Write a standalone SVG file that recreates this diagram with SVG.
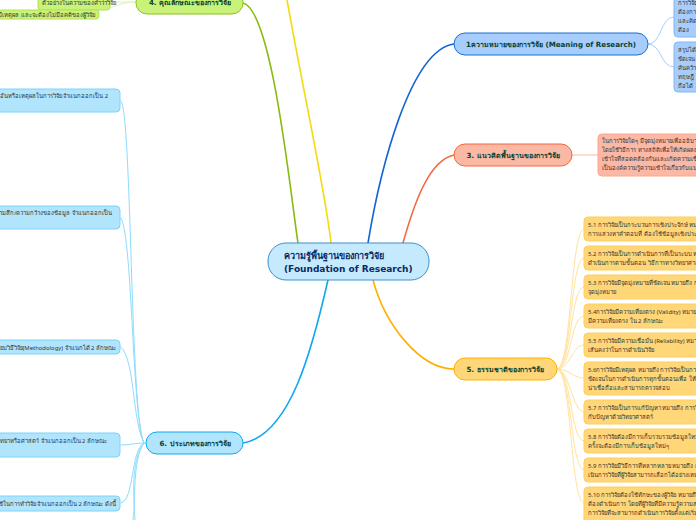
<svg xmlns="http://www.w3.org/2000/svg" width="696" height="520" viewBox="0 0 696 520">
<style>
text{font-family:"Noto Sans","Liberation Sans",sans-serif;fill:#333}
.t{font-size:5.900px}
.h{font-size:7.100px;font-weight:700;fill:#0b4030;font-family:"DejaVu Sans","Noto Sans",sans-serif;text-anchor:middle}
.m{font-size:9px;font-weight:700;fill:#0a2a66;font-family:"DejaVu Sans","Noto Sans",sans-serif}
.c{fill:none;stroke-linecap:round}
.main{stroke-width:1.6}
.sub{stroke-width:1}
.bl{fill:#a6cdfb;stroke:#85b6f5}
.or{fill:#fbb9a5;stroke:#fba68c}
.am{fill:#ffd778;stroke:#ffcd5c}
.sk{fill:#b0e5fd;stroke:#7ed2fa}
.gr{fill:#c8f278;stroke:#b2e44e}
</style>
<g id="connectors">
<path class="c main" stroke="#88bb10" d="M298 243C290 190 272 10 243 3"/>
<path class="c main" stroke="#f2dc0c" d="M331 243C325 190 305 100 287 0"/>
<path class="c main" stroke="#1464d2" d="M368 243C380 170 410 50 454 44"/>
<path class="c main" stroke="#f4683a" d="M403 243C415 200 430 160 454 155"/>
<path class="c main" stroke="#ffb000" d="M373 280C385 325 420 369 454 369"/>
<path class="c main" stroke="#0fa8ee" d="M328 280C312 350 290 435 243 443"/>
<path class="c sub" stroke="#a6cdfb" d="M648 44C662 44 660 17 674 17"/>
<path class="c sub" stroke="#a6cdfb" d="M648 44C662 44 660 67 674 67"/>
<path class="c sub" stroke="#fbb9a5" d="M572 155H598"/>
<g stroke="#ffe39c">
<path class="c sub" d="M557 369C572 369 570 229 584 229"/>
<path class="c sub" d="M557 369C572 369 570 258 584 258"/>
<path class="c sub" d="M557 369C572 369 570 287 584 287"/>
<path class="c sub" d="M557 369C572 369 570 316 584 316"/>
<path class="c sub" d="M557 369C570 369 572 345 584 345"/>
<path class="c sub" d="M557 369C570 369 572 378 584 378"/>
<path class="c sub" d="M557 369C570 369 572 412 584 412"/>
<path class="c sub" d="M557 369C572 369 570 441 584 441"/>
<path class="c sub" d="M557 369C572 369 570 470 584 470"/>
<path class="c sub" d="M557 369C572 369 570 503 584 503"/>
</g>
<g stroke="#8fdcfc">
<path class="c sub" d="M144 443C130 420 132 110 121 101"/>
<path class="c sub" d="M144 443C132 420 133 240 121 218"/>
<path class="c sub" d="M144 443C132 420 135 360 121 347"/>
<path class="c sub" d="M144 443C136 443 130 445 121 445"/>
<path class="c sub" d="M144 443C130 450 135 500 121 503"/>
<path class="c sub" d="M144 443C132 460 136 500 133 520"/>
<path class="c sub" d="M144 443C130 460 134 500 135 520"/>
</g>
<path class="c sub" stroke="#def5b0" d="M136 2H110"/>
<path class="c sub" stroke="#def5b0" d="M136 2C120 2 115 8 99 10"/>
</g>

<g id="node-center">
<rect x="268" y="243" width="161" height="37" rx="18" fill="#c5e9fd" stroke="#3a90d0"/>
<text class="m" x="284" y="259">ความรู้พื้นฐานของการวิจัย</text>
<text class="m" x="284" y="272">(Foundation of Research)</text>
</g>
<g id="node-1">
<rect x="454" y="33" width="194" height="22" rx="11" fill="#a6cdfb" stroke="#1b6fd6"/>
<text class="h" x="551" y="47">1ความหมายของการวิจัย (Meaning of Research)</text>
</g>
<g id="node-3">
<rect x="454" y="144" width="118" height="22" rx="11" fill="#fbb9a5" stroke="#f4683a"/>
<text class="h" x="513" y="158">3. แนวคิดพื้นฐานของการวิจัย</text>
</g>
<g id="node-4">
<rect x="136" y="-9" width="107" height="23" rx="11" fill="#c8f278" stroke="#8cc21c"/>
<text class="h" x="190" y="5">4. คุณลักษณะของการวิจัย</text>
</g>
<g id="node-5">
<rect x="454" y="358" width="103" height="22" rx="11" fill="#ffd778" stroke="#ffb000"/>
<text class="h" x="505" y="372">5. ธรรมชาติของการวิจัย</text>
</g>
<g id="node-6">
<rect x="146" y="432" width="97" height="22" rx="11" fill="#b0e5fd" stroke="#0fa8ee"/>
<text class="h" x="195" y="446">6. ประเภทของการวิจัย</text>
</g>

<g id="leaf-1a"><rect class="bl" x="674" y="-6" width="60" height="43" rx="4"/>
<text class="t" x="678" y="5">การวิจัย</text><text class="t" x="678" y="14">ต้องการ</text><text class="t" x="678" y="23">และคิด</text><text class="t" x="678" y="32">ต้อง</text></g>
<g id="leaf-1b"><rect class="bl" x="674" y="42" width="60" height="50" rx="4"/>
<text class="t" x="678" y="52">สรุปได้</text><text class="t" x="678" y="61">ชัดเจน</text><text class="t" x="678" y="70">ค้นคว้า</text><text class="t" x="678" y="79">ทฤษฎี</text><text class="t" x="678" y="88">ถือได้</text></g>
<g id="leaf-3"><rect class="or" x="598" y="134" width="120" height="42" rx="4"/>
<text class="t" x="602" y="143">ในการวิจัยใดๆ มีจุดมุ่งหมายเพื่ออธิบาย ทำนาย</text><text class="t" x="602" y="152">โดยใช้วิธีการ ทางสถิติเพื่อให้เกิดผลสรุปที่</text><text class="t" x="602" y="161">เข้าใจที่สอดคล้องกันและเกิดความเชื่อมั่น</text><text class="t" x="602" y="170">เป็นองค์ความรู้ความเข้าใจเกี่ยวกับแนวคิด</text></g>

<g id="leaf-5-1"><rect class="am" x="584" y="217" width="130" height="24" rx="4"/><text class="t" x="588" y="227">5.1 การวิจัยเป็นกระบวนการเชิงประจักษ์ หมายถึง</text><text class="t" x="588" y="236">การแสวงหาคำตอบที่ ต้องใช้ข้อมูลเชิงประจักษ์</text></g>
<g id="leaf-5-2"><rect class="am" x="584" y="246" width="130" height="24" rx="4"/><text class="t" x="588" y="256">5.2 การวิจัยเป็นการดำเนินการที่เป็นระบบ หมาย</text><text class="t" x="588" y="265">ดำเนินการตามขั้นตอน วิธีการทางวิทยาศาสตร์</text></g>
<g id="leaf-5-3"><rect class="am" x="584" y="275" width="130" height="24" rx="4"/><text class="t" x="588" y="285">5.3 การวิจัยมีจุดมุ่งหมายที่ชัดเจน หมายถึง การ</text><text class="t" x="588" y="294">จุดมุ่งหมาย</text></g>
<g id="leaf-5-4"><rect class="am" x="584" y="304" width="130" height="24" rx="4"/><text class="t" x="588" y="314">5.4การวิจัยมีความเที่ยงตรง (Validity) หมายถึง</text><text class="t" x="588" y="323">มีความเที่ยงตรง ใน 2 ลักษณะ</text></g>
<g id="leaf-5-5"><rect class="am" x="584" y="333" width="130" height="24" rx="4"/><text class="t" x="588" y="343">5.5 การวิจัยมีความเชื่อมั่น (Reliability) หมายถึง</text><text class="t" x="588" y="352">เส้นคงว่าในการดำเนินวิจัย</text></g>
<g id="leaf-5-6"><rect class="am" x="584" y="362" width="130" height="33" rx="4"/><text class="t" x="588" y="372">5.6การวิจัยมีเหตุผล หมายถึง การวิจัยเป็นการ</text><text class="t" x="588" y="381">ชัดเจนในการดำเนินการทุกขั้นตอนเพื่อ ให้ได้ผล</text><text class="t" x="588" y="390">น่าเชื่อถือและสามารถตรวจสอบ</text></g>
<g id="leaf-5-7"><rect class="am" x="584" y="400" width="130" height="24" rx="4"/><text class="t" x="588" y="410">5.7 การวิจัยเป็นการแก้ปัญหา หมายถึง การวิจัย</text><text class="t" x="588" y="419">กับปัญหาด้วยวิทยาศาสตร์</text></g>
<g id="leaf-5-8"><rect class="am" x="584" y="429" width="130" height="24" rx="4"/><text class="t" x="588" y="439">5.8 การวิจัยต้องมีการเก็บรวบรวมข้อมูลใหม่ หมาย</text><text class="t" x="588" y="448">ครั้งจะต้องมีการเก็บข้อมูลใหม่ๆ</text></g>
<g id="leaf-5-9"><rect class="am" x="584" y="458" width="130" height="24" rx="4"/><text class="t" x="588" y="468">5.9 การวิจัยมีวิธีการที่หลากหลาย หมายถึง การ</text><text class="t" x="588" y="477">เนินการวิจัยที่ผู้วิจัยสามารถเลือกได้อย่างเหมาะสม</text></g>
<g id="leaf-5-10"><rect class="am" x="584" y="487" width="130" height="40" rx="4"/><text class="t" x="588" y="497">5.10 การวิจัยต้องใช้ทักษะของผู้วิจัย หมายถึง</text><text class="t" x="588" y="506">ต้องดำเนินการ โดยที่ผู้วิจัยที่มีความรู้ความสามารถ</text><text class="t" x="588" y="515">การวิจัยที่จะสามารถดำเนินการวิจัยตั้งแต่เริ่มต้น</text></g>

<g id="leaf-6-1"><rect class="sk" x="-40" y="89" width="160" height="23" rx="4"/><text class="t" x="108" y="98" text-anchor="end">ที่ใช้อันหรือเหตุผลในการวิจัย จำแนกออกเป็น 2</text></g>
<g id="leaf-6-2"><rect class="sk" x="-40" y="206" width="160" height="23" rx="4"/><text class="t" x="112" y="215" text-anchor="end">ความลึก/ความกว้างของข้อมูล จำแนกออกเป็น</text></g>
<g id="leaf-6-3"><rect class="sk" x="-40" y="340" width="160" height="14" rx="4"/><text class="t" x="116" y="349.500" text-anchor="end">ะเบียบวิธีวิจัย(Methodology) จำแนกได้ 2 ลักษณะ</text></g>
<g id="leaf-6-4"><rect class="sk" x="-40" y="433" width="160" height="24" rx="4"/><text class="t" x="107" y="443" text-anchor="end">องวิทยาหรือศาสตร์ จำแนกออกเป็น 2 ลักษณะ</text></g>
<g id="leaf-6-5"><rect class="sk" x="-40" y="496" width="160" height="15" rx="4"/><text class="t" x="116" y="506" text-anchor="end">ที่ใช้ในการทำวิจัย จำแนกออกเป็น 2 ลักษณะ ดังนี้</text></g>

<g id="leaf-4-1"><rect class="gr" x="38" y="-6" width="72" height="16" rx="3"/><text class="t" x="42" y="5">ตัวอย่างในความของคำว่าวิจัย</text></g>
<g id="leaf-4-2"><rect class="gr" x="-40" y="10" width="139" height="9" rx="3"/><text class="t" x="95" y="17" text-anchor="end">จริง มีเหตุผล และจะต้องไม่มีอคติของผู้วิจัย</text></g>
</svg>
